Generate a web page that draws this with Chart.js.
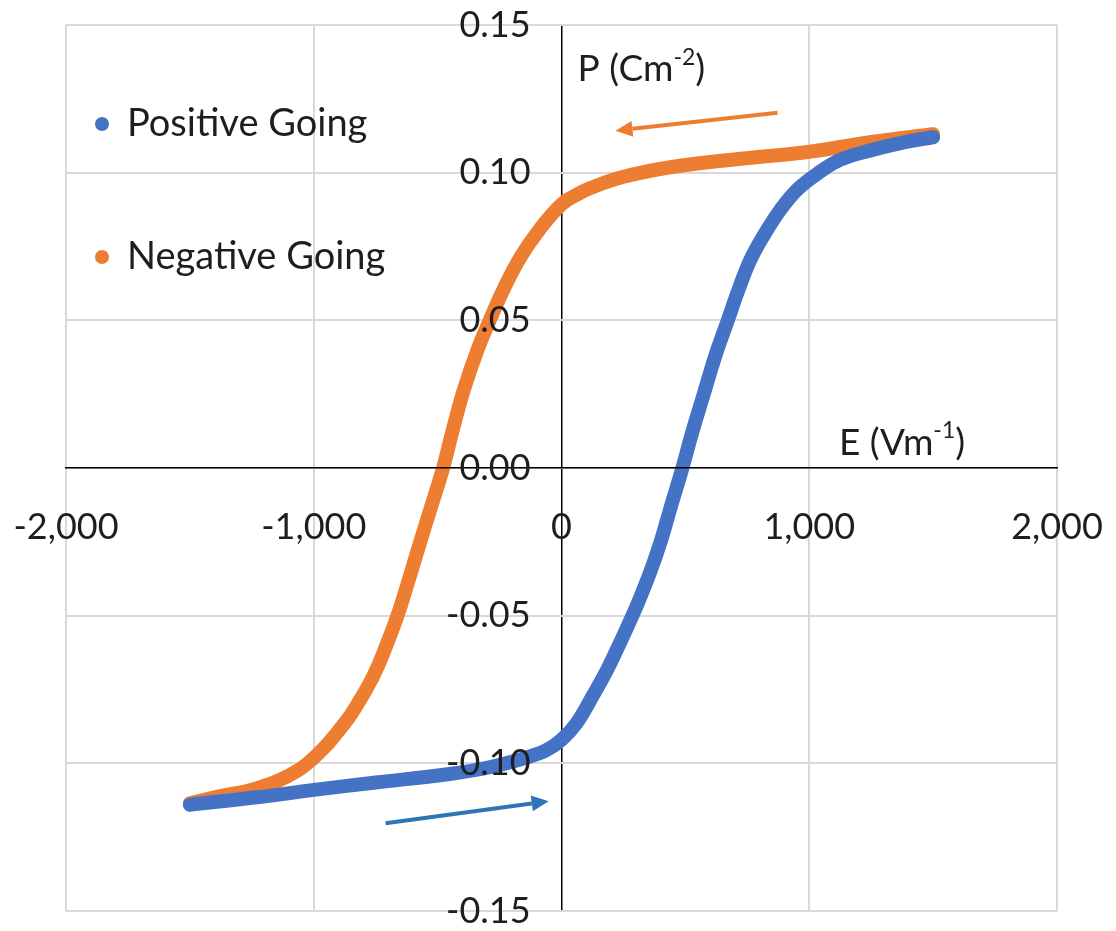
<!DOCTYPE html>
<html>
<head>
<meta charset="utf-8">
<script src="https://cdn.jsdelivr.net/npm/chart.js@4"></script>
<style>
  html, body { margin: 0; padding: 0; background: #fff; }
  #wrap { width: 1116px; height: 931px; }
</style>
</head>
<body>
<div id="wrap"><canvas id="loopChart"></canvas></div>
<script>
// values
const posE = [-1500, -1230, -1000, -750, -460, -300, -140, -60, 0, 60, 129, 180, 226, 270, 307, 359, 400, 440, 488, 528, 573, 621, 670, 715, 763, 823, 884, 952, 1030, 1126, 1259, 1396, 1500];
const posP = [-0.114, -0.1115, -0.109, -0.1065, -0.1037, -0.1015, -0.098, -0.0955, -0.092, -0.0865, -0.0767, -0.069, -0.061, -0.053, -0.046, -0.035, -0.025, -0.0135, 0, 0.0122, 0.0247, 0.038, 0.0497, 0.0605, 0.0706, 0.0797, 0.0875, 0.0943, 0.0995, 0.1044, 0.1078, 0.1105, 0.112];

const negE = [-1500, -1376, -1227, -1066, -961, -900, -850, -799, -760, -723, -662, -617, -581, -537, -478, -440, -396, -339, -287, -234, -165, -85, 0, 60, 117, 250, 452, 722, 993, 1259, 1500];
const negP = [-0.1135, -0.1111, -0.1084, -0.1025, -0.095, -0.089, -0.0835, -0.0765, -0.0705, -0.0635, -0.050, -0.038, -0.028, -0.016, 0, 0.0125, 0.026, 0.040, 0.0505, 0.0605, 0.0715, 0.0812, 0.0893, 0.0925, 0.0948, 0.0986, 0.102, 0.1047, 0.107, 0.1105, 0.113];

const seriesNames = ['Positive Going', 'Negative Going'];
const xTicks = [-2000, -1000, 0, 1000, 2000];
const yTicks = [-0.15, -0.10, -0.05, 0, 0.05, 0.10, 0.15];

const blue = '#4472C4';
const orange = '#ED7D31';
const FONT = 'Lato, "Open Sans", sans-serif';
const gridGray = '#d9d9d9';

function toPoints(xs, ys) {
  return xs.map((x, i) => ({ x: x, y: ys[i] }));
}

// legend, axis names and direction arrows
const extras = {
  id: 'extras',
  afterDatasetsDraw(chart) {
    const c = chart.ctx;
    const xs = chart.scales.x, ys = chart.scales.y;
    const area = chart.chartArea;

    // legend inside the plot, top left
    const colors = [blue, orange];
    c.save();
    c.textBaseline = 'middle';
    seriesNames.forEach((name, i) => {
      const cy = area.top + 99 + i * 133;
      c.beginPath();
      c.arc(area.left + 36, cy, 7, 0, Math.PI * 2);
      c.fillStyle = colors[i];
      c.fill();
      c.font = '38px ' + FONT;
      c.fillStyle = '#1e1e1e';
      c.fillText(name, area.left + 61, cy);
    });

    // axis names with superscripts
    function supText(parts, x, y) {
      let cx = x;
      parts.forEach(p => {
        c.font = (p.sup ? '23px ' : '37px ') + FONT;
        c.fillText(p.t, cx, p.sup ? y - 12 : y);
        cx += c.measureText(p.t).width;
      });
    }
    c.textAlign = 'left';
    c.fillStyle = '#1e1e1e';
    supText([{ t: 'P (Cm' }, { t: '-2', sup: true }, { t: ')' }], xs.getPixelForValue(65), ys.getPixelForValue(0.135));
    supText([{ t: 'E (Vm' }, { t: '-1', sup: true }, { t: ')' }], xs.getPixelForValue(1120), ys.getPixelForValue(0.0085));

    // arrows
    function arrow(x0, y0, x1, y1, col) {
      const p0 = { x: xs.getPixelForValue(x0), y: ys.getPixelForValue(y0) };
      const p1 = { x: xs.getPixelForValue(x1), y: ys.getPixelForValue(y1) };
      const a = Math.atan2(p1.y - p0.y, p1.x - p0.x);
      const hl = 17, hw = 8;
      const bx = p1.x - hl * Math.cos(a), by = p1.y - hl * Math.sin(a);
      c.strokeStyle = col;
      c.fillStyle = col;
      c.lineWidth = 4;
      c.beginPath();
      c.moveTo(p0.x, p0.y);
      c.lineTo(bx, by);
      c.stroke();
      c.beginPath();
      c.moveTo(p1.x, p1.y);
      c.lineTo(bx + hw * Math.sin(a), by - hw * Math.cos(a));
      c.lineTo(bx - hw * Math.sin(a), by + hw * Math.cos(a));
      c.closePath();
      c.fill();
    }
    arrow(872, 0.1203, 218, 0.1142, orange);
    arrow(-710, -0.1203, -52, -0.1128, '#2E75B6');
    c.restore();
  }
};

const lineStyle = {
  showLine: true,
  borderWidth: 14,
  borderCapStyle: 'round',
  borderJoinStyle: 'round',
  tension: 0.4,
  pointRadius: 0
};

new Chart(document.getElementById('loopChart'), {
  type: 'scatter',
  data: {
    datasets: [
      Object.assign({ label: seriesNames[0], data: toPoints(posE, posP), borderColor: blue, backgroundColor: blue }, lineStyle),
      Object.assign({ label: seriesNames[1], data: toPoints(negE, negP), borderColor: orange, backgroundColor: orange }, lineStyle)
    ]
  },
  options: {
    responsive: true,
    maintainAspectRatio: false,
    animation: false,
    layout: { padding: { left: 66, right: 59, top: 25, bottom: 20 } },
    plugins: {
      legend: { display: false },
      tooltip: { enabled: false }
    },
    scales: {
      x: {
        type: 'linear',
        position: { y: 0 },
        min: -2000,
        max: 2000,
        afterBuildTicks: s => { s.ticks = xTicks.map(v => ({ value: v })); },
        afterFit: s => { s.paddingLeft = 0; s.paddingRight = 0; },
        grid: {
          color: ctx => (ctx.tick && ctx.tick.value === 0 ? '#000' : gridGray),
          lineWidth: ctx => (ctx.tick && ctx.tick.value === 0 ? 1.5 : 2),
          drawTicks: false,
          z: -1
        },
        border: { color: '#000', width: 1.5, z: 1 },
        ticks: {
          z: 1,
          padding: 38,
          color: '#1e1e1e',
          font: { family: FONT, size: 36 },
          maxRotation: 0,
          callback: v => v.toLocaleString('en-US')
        }
      },
      y: {
        type: 'linear',
        // labels sit a little left of the E = 0 line
        position: { x: -125 },
        min: -0.15,
        max: 0.15,
        afterBuildTicks: s => { s.ticks = yTicks.map(v => ({ value: v })); },
        afterFit: s => { s.paddingTop = 0; s.paddingBottom = 0; },
        grid: { color: gridGray, lineWidth: 2, drawTicks: false, z: -1 },
        border: { display: false },
        ticks: {
          z: 1,
          padding: 0,
          color: '#1e1e1e',
          font: { family: FONT, size: 36 },
          callback: v => v.toFixed(2)
        }
      }
    }
  },
  plugins: [extras]
});
</script>
</body>
</html>
